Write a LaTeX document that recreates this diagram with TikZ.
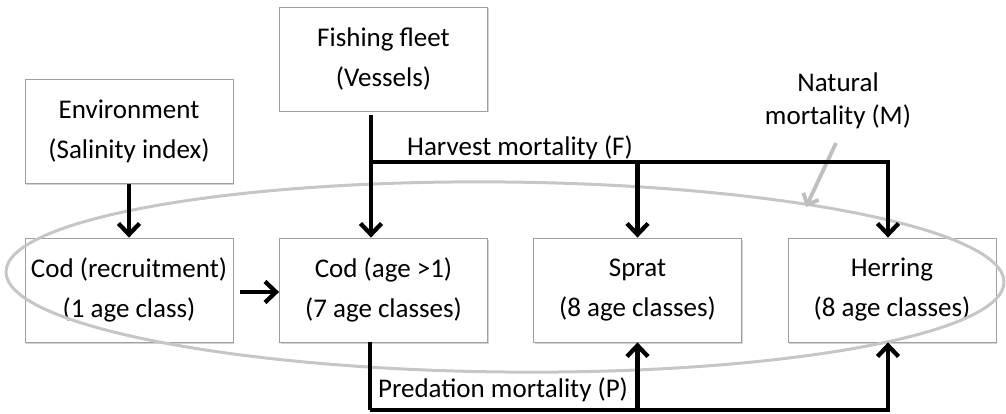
\documentclass[tikz,border=0pt]{standalone}
\usepackage{fontspec}
\setmainfont{Carlito}
\usetikzlibrary{arrows.meta,shadows}

\begin{document}
\begin{tikzpicture}[x=1pt, y=-1pt,
    box/.style={draw=gray!75, line width=0.8pt, fill=white, minimum width=208pt, minimum height=104pt,
      align=center, font=\fontsize{27}{40}\selectfont,
      drop shadow={shadow xshift=1.2pt, shadow yshift=-1.5pt, opacity=0.35}},
    lbl/.style={font=\fontsize{27}{33}\selectfont, align=center, inner sep=0pt},
    link/.style={line width=4.3pt, -{Straight Barb[length=11pt, width=21pt, line width=4.3pt]}},
    mlink/.style={gray!50, line width=3.8pt, -{Straight Barb[length=9pt, width=17pt, line width=3.8pt]}}]
      \useasboundingbox (0,0) rectangle (1006,414);

      % Caixas
      \node[box] (fleet) at (383.5,59) {Fishing fleet\\(Vessels)};
      \node[box] (env) at (129,131.5) {Environment\\(Salinity index)};
      \node[box] (codrec) at (129,290) {Cod (recruitment)\\(1 age class)};
      \node[box] (codage) at (383.5,290) {Cod (age >1)\\(7 age classes)};
      \node[box] (sprat) at (637.5,290) {Sprat\\(8 age classes)};
      \node[box] (herring) at (892,290) {Herring\\(8 age classes)};

      % Elipse
      \draw[gray!45, line width=3pt, rotate around={-0.6:(505,277)}] (505,277) ellipse [x radius=499, y radius=95];

      % Mortalidade natural
      \node[lbl] (natm) at (838,101) {Natural\\mortality (M)};
      \coordinate (mtip) at (806,207);
      \draw[mlink] (836,143) -- (mtip);

      % Mortalidade por pesca
      \coordinate (hjoin) at (371,162);
      \draw[link, shorten <=4pt] ([xshift=-12.5pt]fleet.south) -- ([xshift=-12.5pt]codage.north);
      \draw[link] (hjoin) -| (sprat.north);
      \draw[link] (hjoin) -| ([xshift=-4pt]herring.north);
      \node[lbl] (harv) at (520,148) {Harvest mortality (F)};

      % Recrutamento e ambiente
      \draw[link] (env.south) -- (codrec.north);
      \draw[link, shorten <=7pt] ([yshift=-2pt]codrec.east) -- ([yshift=-2pt]codage.west);

      % Mortalidade por predacao
      \coordinate (pjoin) at (370,410);
      \draw[line width=4.3pt] ([xshift=-13.5pt]codage.south) -- (pjoin);
      \draw[link] (pjoin) -| (sprat.south);
      \draw[link] (pjoin) -| ([xshift=-4pt]herring.south);
      \node[lbl] (pred) at (503,390) {Predation mortality (P)};
    \end{tikzpicture}
\end{document}
